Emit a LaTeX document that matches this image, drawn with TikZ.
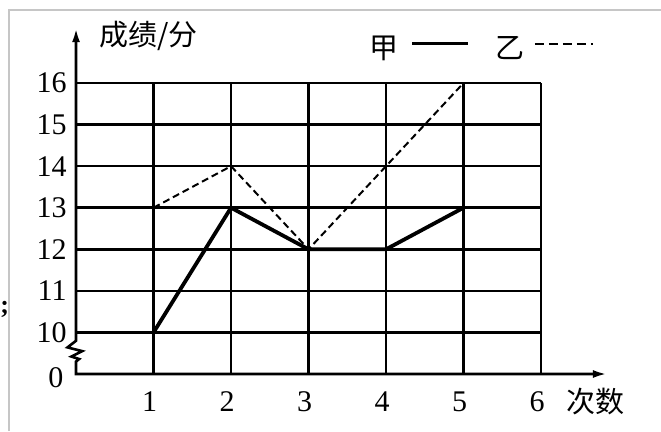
\documentclass[tikz,border=0pt]{standalone}
\usepackage{fontspec}
\setmainfont{Liberation Serif}
\newfontfamily\cjk{Noto Sans CJK SC}
\usetikzlibrary{arrows.meta}

\begin{document}
\begin{tikzpicture}[x=77.5pt,y=41.57pt,
	gridline/.style={line width=2.6pt},
	axisline/.style={line width=2.6pt,line join=miter,{Latex[length=14pt,width=8pt]}-{Latex[length=14pt,width=8pt]}},
	jia/.style={line width=3.8pt,line join=round},
	yi/.style={line width=2pt,dash pattern=on 7pt off 4pt},
	num/.style={font=\fontsize{30}{30}\selectfont,inner sep=0pt},
	word/.style={font=\cjk\fontsize{29}{29}\selectfont,inner sep=0pt}]
	
	\useasboundingbox (-0.981,-1.371) rectangle (7.548,8.997);
	
	% edge of the scan
	\draw[gray!45,line width=1.5pt] (-0.865,-1.371) -- (-0.865,8.756) -- (7.548,8.756);
	\node[font=\bfseries\fontsize{26}{26}\selectfont,anchor=west,inner sep=0pt] (semi) at (-0.978,1.55) {;};
	
	% grid
	\foreach \r in {1,...,7}
		\draw[gridline] (0,\r) -- (6,\r);
	\foreach \c in {1,...,6}
		\draw[gridline] (\c,0) -- (\c,7);
	
	% axes
	\coordinate (o) at (0,0);
	\coordinate (xend) at (6.85,0);
	\coordinate (yend) at (0,8.32);
	\coordinate (brk1) at (0,0.3);
	\coordinate (brk2) at (0,0.8);
	\draw[axisline] (yend) -- (brk2) -- (-0.11,0.64) -- (0.08,0.55) -- (-0.06,0.42) -- (0.04,0.36) -- (brk1) -- (o) -- (xend);
	
	\foreach \s in {10,...,16}
		\node[num,anchor=east] (l\s) at (-0.12,{\s-9}) {\s};
	\node[num,anchor=east] (l0) at (-0.16,-0.1) {0};
	\foreach \c in {1,...,6}
		\node[num] (n\c) at (\c-0.05,-0.67) {\c};
	
	\node[word,anchor=west] (cishu) at (6.33,-0.67) {次数};
	\node[word,anchor=west] (chengji) at (0.3,8.13) {成绩/分};
	
	% scores
	\coordinate (jia1) at (1,1);
	\coordinate (jia2) at (2,4);
	\coordinate (jia3) at (3,3);
	\coordinate (jia4) at (4,3);
	\coordinate (jia5) at (5,4);
	\coordinate (yi1) at (1,4);
	\coordinate (yi2) at (2,5);
	\coordinate (yi3) at (3,3);
	\coordinate (yi4) at (4,5);
	\coordinate (yi5) at (5,7);
	
	\draw[jia] (jia1) -- (jia2) -- (jia3) -- (jia4) -- (jia5);
	\draw[yi] (yi1) -- (yi2) -- (yi3) -- (yi4) -- (yi5);
	
	% legend
	\node[word] (jia) at (3.97,7.84) {甲};
	\node[word] (yi) at (5.6,7.84) {乙};
	\coordinate (jiaA) at (4.34,7.94);
	\coordinate (jiaB) at (5.06,7.94);
	\coordinate (yiA) at (5.92,7.94);
	\coordinate (yiB) at (6.67,7.94);
	\draw[jia,line width=3pt] (jiaA) -- (jiaB);
	\draw[yi,dash pattern=on 9pt off 5pt] (yiA) -- (yiB);
	
\end{tikzpicture}
\end{document}
